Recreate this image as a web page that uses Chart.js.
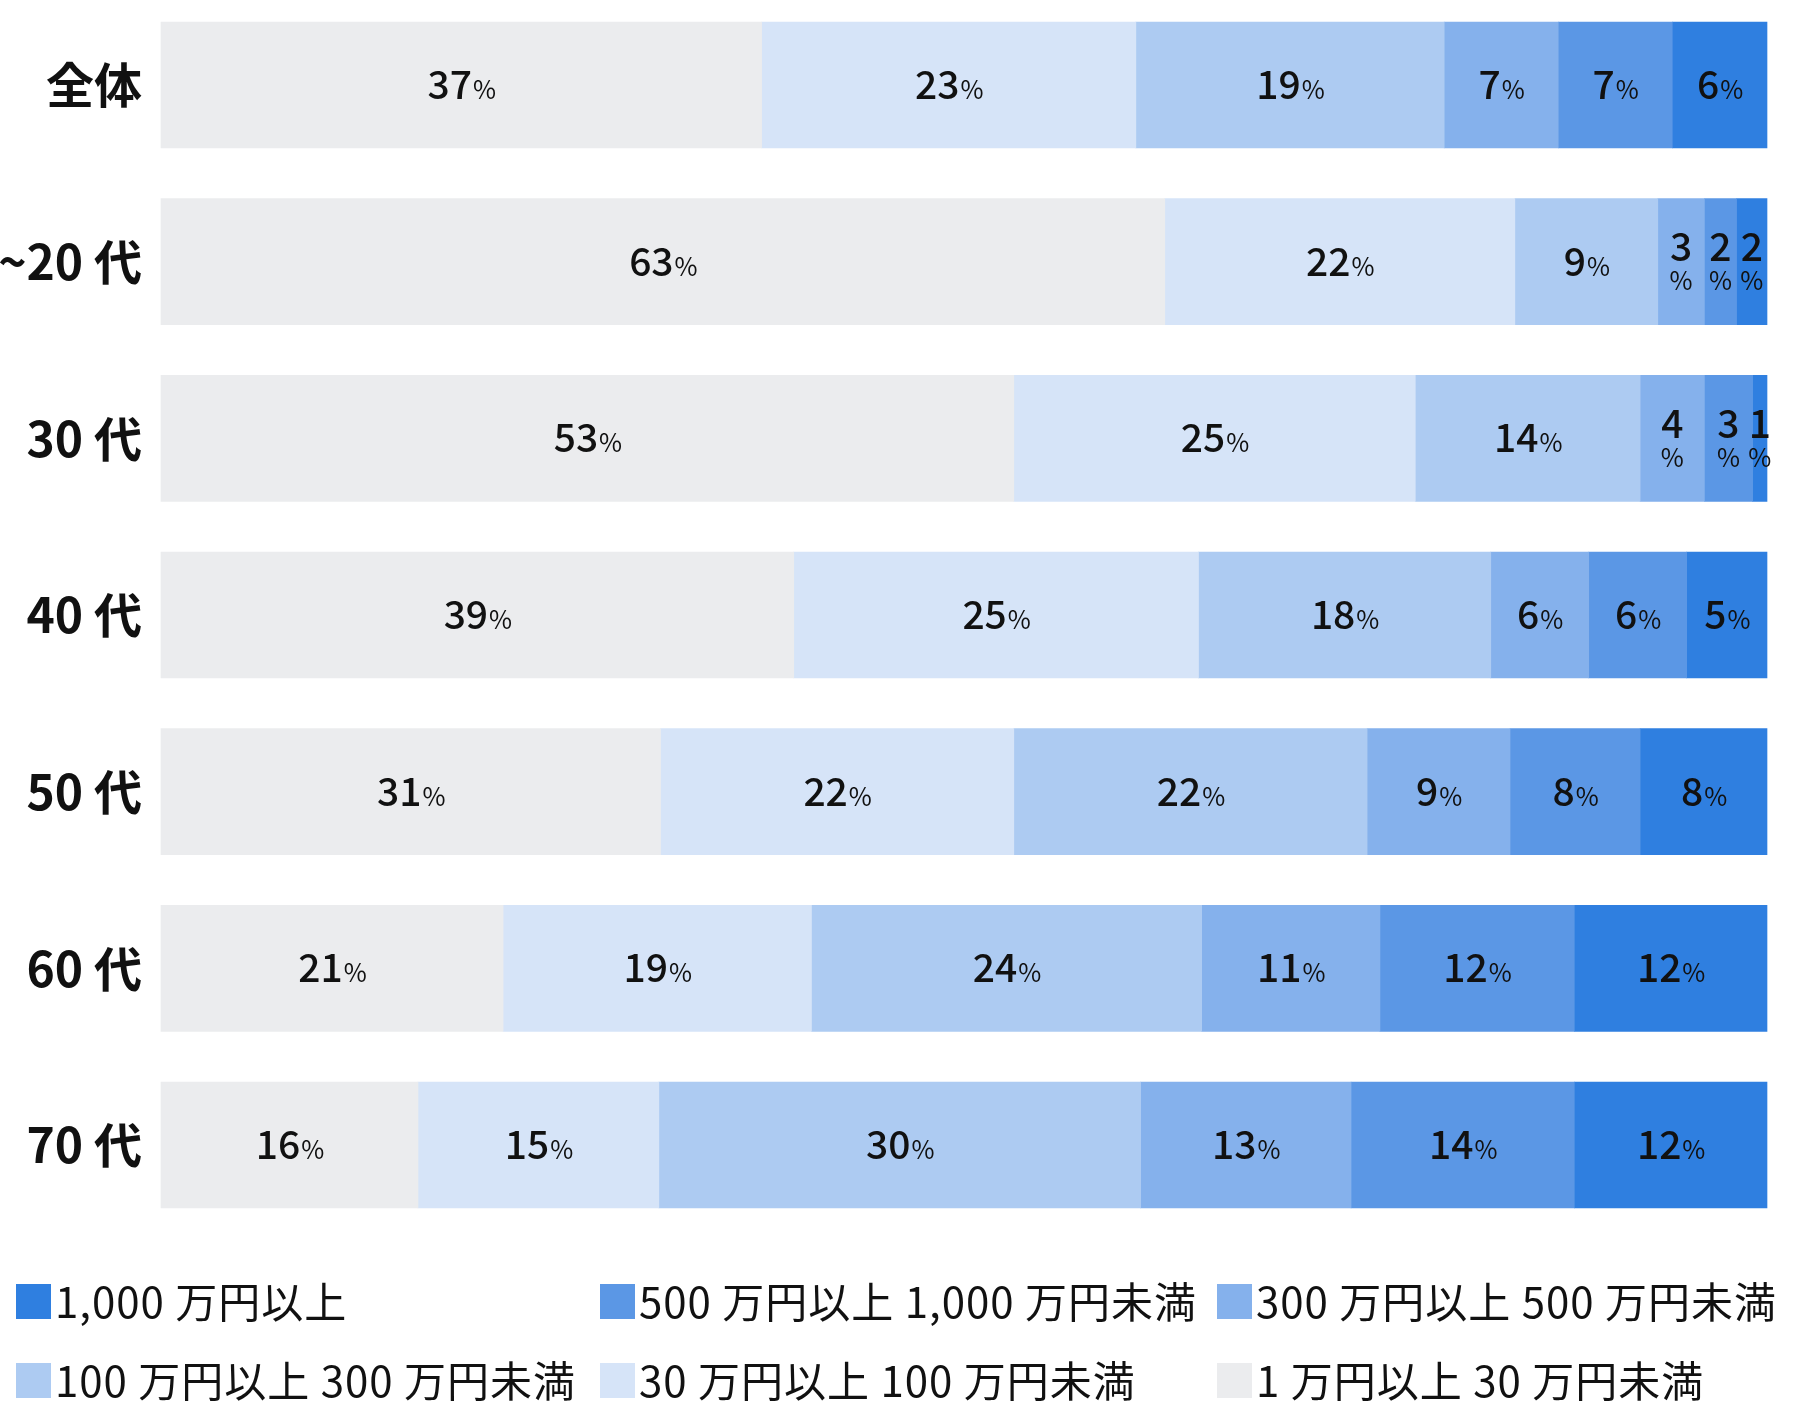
<!DOCTYPE html>
<html>
<head>
    <meta charset="utf-8">
    <title>金額帯の割合</title>
    <style>
        body { margin: 0; background: #ffffff; }
    </style>
    <script src="https://cdn.jsdelivr.net/npm/chart.js"></script>
</head>
<body>
<canvas id="myChart" width="1796" height="1427"></canvas>
<script>
// Row labels (top to bottom)
const ageGroups = ['全体', '~20 代', '30 代', '40 代', '50 代', '60 代', '70 代'];

// Series labels, stacked left to right
const bandLabels = [
    '1 万円以上 30 万円未満',
    '30 万円以上 100 万円未満',
    '100 万円以上 300 万円未満',
    '300 万円以上 500 万円未満',
    '500 万円以上 1,000 万円未満',
    '1,000 万円以上'
];
const bandColors = ['#ebecee', '#d6e4f8', '#adcbf2', '#85b1ec', '#5b97e5', '#2f7fe0'];

// Shares per band (%), one value per age group
const band1to30 = [37.4, 62.5, 53.1, 39.4, 31.1, 21.3, 16.0];
const band30to100 = [23.3, 21.8, 25.0, 25.2, 22.0, 19.2, 15.0];
const band100to300 = [19.2, 8.9, 14.0, 18.2, 22.0, 24.3, 30.0];
const band300to500 = [7.1, 2.9, 4.0, 6.1, 8.9, 11.1, 13.1];
const band500to1000 = [7.1, 2.0, 3.0, 6.1, 8.1, 12.1, 13.9];
const band1000plus = [5.9, 1.9, 0.9, 5.0, 7.9, 12.0, 12.0];

const bandValues = [band1to30, band30to100, band100to300, band300to500, band500to1000, band1000plus];

const fontFamily = '"Noto Sans CJK JP", "Noto Sans", sans-serif';

// draws "37%" style labels inside each segment
const segmentLabels = {
    id: 'segmentLabels',
    afterDatasetsDraw(chart) {
        const ctx = chart.ctx;
        ctx.save();
        ctx.fillStyle = '#111111';
        chart.data.datasets.forEach((ds, di) => {
            const meta = chart.getDatasetMeta(di);
            meta.data.forEach((bar, i) => {
                const num = String(Math.round(ds.data[i]));
                const left = Math.min(bar.x, bar.base);
                const w = Math.abs(bar.x - bar.base);
                const cx = left + w / 2;
                const cy = bar.y;
                if (w >= 72) {
                    ctx.font = '500 39px ' + fontFamily;
                    const nw = ctx.measureText(num).width;
                    ctx.font = '400 25px ' + fontFamily;
                    const pw = ctx.measureText('%').width;
                    const x0 = cx - (nw + pw) / 2;
                    ctx.textAlign = 'left';
                    ctx.textBaseline = 'alphabetic';
                    ctx.font = '500 39px ' + fontFamily;
                    ctx.fillText(num, x0, cy + 14);
                    ctx.font = '400 25px ' + fontFamily;
                    ctx.fillText('%', x0 + nw + 1, cy + 14);
                } else {
                    ctx.textAlign = 'center';
                    ctx.textBaseline = 'middle';
                    ctx.font = '500 39px ' + fontFamily;
                    ctx.fillText(num, cx, cy - 15);
                    ctx.font = '400 25px ' + fontFamily;
                    ctx.fillText('%', cx, cy + 19);
                }
            });
        });
        ctx.restore();
    }
};

// legend in a fixed three-column grid, darkest band first
const gridLegend = {
    id: 'gridLegend',
    afterDraw(chart) {
        const ctx = chart.ctx;
        const colX = [16, 600, 1217];
        const rowY = [1301, 1380];
        const items = chart.data.datasets.slice().reverse();
        ctx.save();
        ctx.font = '400 42px ' + fontFamily;
        ctx.letterSpacing = '1px';
        ctx.textBaseline = 'middle';
        ctx.textAlign = 'left';
        items.forEach((ds, k) => {
            const x = colX[k % 3];
            const y = rowY[Math.floor(k / 3)];
            ctx.fillStyle = ds.backgroundColor;
            ctx.fillRect(x, y - 17, 35, 35);
            ctx.fillStyle = '#111111';
            ctx.fillText(ds.label, x + 39, y + 1);
        });
        ctx.restore();
    }
};

const ctx = document.getElementById('myChart').getContext('2d');
const chart = new Chart(ctx, {
    type: 'bar',
    data: {
        labels: ageGroups,
        datasets: bandLabels.map((label, i) => ({
            label: label,
            data: bandValues[i],
            backgroundColor: bandColors[i],
            borderWidth: 0,
            barThickness: 126,
            clip: false
        }))
    },
    options: {
        indexAxis: 'y',
        responsive: false,
        animation: false,
        layout: {
            padding: { top: 85, bottom: 282, left: 0, right: 29 }
        },
        plugins: {
            legend: { display: false },
            tooltip: { enabled: false }
        },
        scales: {
            x: {
                stacked: true,
                min: 0,
                max: 100,
                display: false
            },
            y: {
                stacked: true,
                offset: false,
                grid: { display: false },
                border: { display: false },
                ticks: {
                    padding: 11,
                    color: '#111111',
                    font: { family: fontFamily, size: 48, weight: 'bold' }
                },
                afterFit(scale) {
                    scale.width = 161;
                }
            }
        }
    },
    plugins: [segmentLabels, gridLegend]
});
</script>
</body>
</html>
